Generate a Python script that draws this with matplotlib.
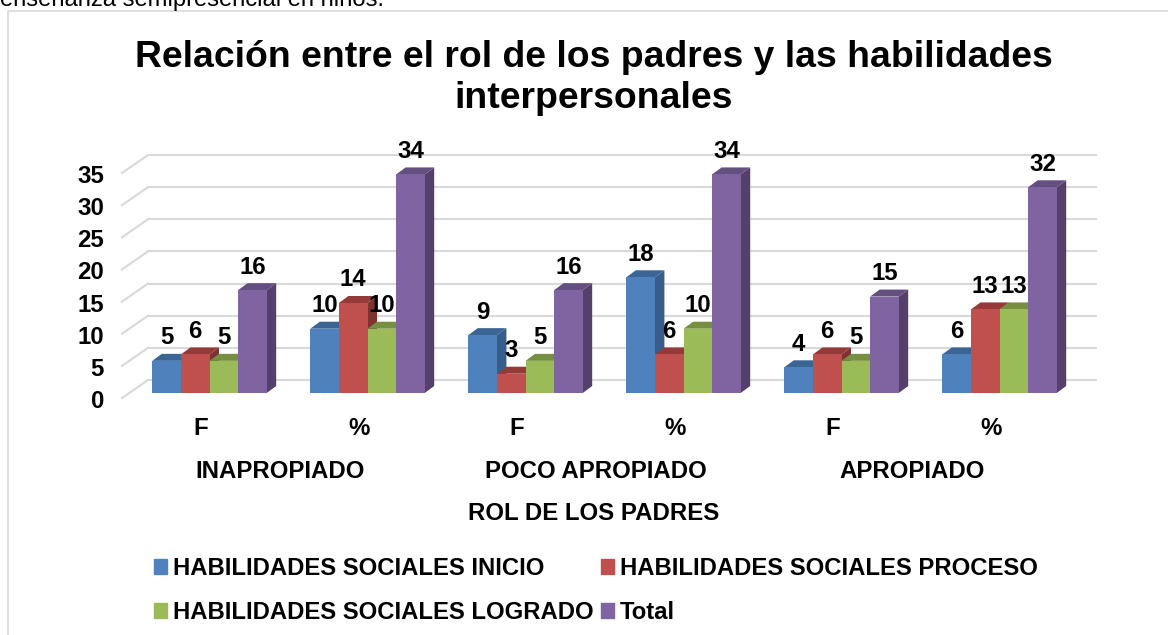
"""
Clustered bars with a faux-3D look: rol de los padres vs. habilidades sociales.
"""

import matplotlib
matplotlib.use("Agg")
import matplotlib.pyplot as plt
import numpy as np
from matplotlib.lines import Line2D
from matplotlib.patches import Patch, Polygon
from matplotlib.transforms import ScaledTranslation, blended_transform_factory

TICK_LABELS = ["F", "%", "F", "%", "F", "%"]
GROUP_LABELS = ["INAPROPIADO", "POCO APROPIADO", "APROPIADO"]
SERIES_NAMES = [
    "HABILIDADES SOCIALES INICIO",
    "HABILIDADES SOCIALES PROCESO",
    "HABILIDADES SOCIALES LOGRADO",
    "Total",
]
INICIO = [5, 10, 9, 18, 4, 6]
PROCESO = [6, 14, 3, 6, 6, 13]
LOGRADO = [5, 10, 5, 10, 5, 13]
TOTAL = [16, 34, 16, 34, 15, 32]

FRONT = ["#4F81BD", "#C0504D", "#9BBB59", "#8064A2"]
TOP = ["#3B6594", "#953A38", "#778F42", "#645080"]
SIDE = ["#385D8A", "#7F3331", "#67803A", "#54406A"]
GRID = "#D9D9D9"

W, H = 1168, 635
DPI = 100
PX_LEFT, PX_RIGHT, PX_BASE, PX_TOP = 122, 1070, 398, 173
BAR_W = 0.181
DEPTH_X = 9.5 / 158
DEPTH_Y = 7 / 6.43
# how far the back wall sits behind the front edge of the floor
WALL_X = 26 / 158
WALL_Y = 18 / 6.43
LABEL_SIZE = 17.3

plt.rcParams["font.family"] = ["Liberation Sans", "DejaVu Sans"]
plt.rcParams["font.weight"] = "bold"


def px_shift(fig, dx, dy):
    return ScaledTranslation(dx / DPI, dy / DPI, fig.dpi_scale_trans)


def draw_bar(ax, trans, x0, value, i):
    x1 = x0 + BAR_W
    top = [(x0, value), (x1, value), (x1 + DEPTH_X, value + DEPTH_Y), (x0 + DEPTH_X, value + DEPTH_Y)]
    side = [(x1, 0), (x1 + DEPTH_X, DEPTH_Y), (x1 + DEPTH_X, value + DEPTH_Y), (x1, value)]
    ax.add_patch(Polygon(side, closed=True, color=SIDE[i], lw=0, transform=trans, clip_on=False, zorder=2))
    ax.add_patch(Polygon(top, closed=True, color=TOP[i], lw=0, transform=trans, clip_on=False, zorder=2))
    ax.bar(x0, value, BAR_W, align="edge", color=FRONT[i], transform=trans, clip_on=False, zorder=2)


def main():
    fig = plt.figure(figsize=(W / DPI, H / DPI), dpi=DPI, facecolor="white")
    ax = fig.add_axes([PX_LEFT / W, 1 - PX_BASE / H, (PX_RIGHT - PX_LEFT) / W, (PX_BASE - PX_TOP) / H])
    ax.set_xlim(-0.5, 5.5)
    ax.set_ylim(0, 35)
    ax.set_autoscale_on(False)
    for s in ax.spines.values():
        s.set_visible(False)

    # chart frame and the text cut off above it
    fig.add_artist(Line2D([8 / W, 8 / W, 1], [0, 1 - 11 / H, 1 - 11 / H], color=GRID, lw=1.2))
    fig.text(0, 1 - 6 / H, "enseñanza semipresencial en niños.", fontsize=17.1, fontweight="normal",
             ha="left", va="baseline")

    # back wall and side wall gridlines
    yticks = np.arange(0, 36, 5)
    for v in yticks:
        ax.plot([-0.5 + WALL_X, 5.5 + WALL_X], [v + WALL_Y, v + WALL_Y], color=GRID, lw=1.5, clip_on=False, zorder=1)
        ax.plot([-0.5, -0.5 + WALL_X], [v, v + WALL_Y], color=GRID, lw=1.5, clip_on=False, zorder=1)

    # bars
    front = ax.transData + px_shift(fig, 8.5, 5)
    series = [INICIO, PROCESO, LOGRADO, TOTAL]
    for g in range(len(TICK_LABELS)):
        start = g - 2 * BAR_W
        for i, values in enumerate(series):
            x0 = start + i * BAR_W
            draw_bar(ax, front, x0, values[g], i)
            ax.annotate(str(values[g]), xy=(x0 + BAR_W / 2, values[g]), xycoords=front,
                        xytext=(0, 23 * 0.72), textcoords="offset points",
                        ha="center", va="center", fontsize=LABEL_SIZE, zorder=5)

    # axis labels
    ax.set_yticks(yticks)
    ax.set_xticks(range(len(TICK_LABELS)), TICK_LABELS)
    ax.tick_params(axis="y", length=0, pad=13, labelsize=LABEL_SIZE)
    ax.tick_params(axis="x", length=0, pad=13.5, labelsize=LABEL_SIZE)
    # tick numbers sit about a pixel lower than the floor line
    for label in ax.get_yticklabels():
        label.set_transform(label.get_transform() + px_shift(fig, 0, -1))

    tr = blended_transform_factory(ax.transData, fig.transFigure)
    for k, label in enumerate(GROUP_LABELS):
        ax.text(2 * k + 0.5, 1 - 472 / H, label, transform=tr, ha="center", va="center", fontsize=LABEL_SIZE)
    fig.text(594 / W, 1 - 514 / H, "ROL DE LOS PADRES", ha="center", va="center", fontsize=LABEL_SIZE)

    fig.text(594 / W, 1 - 78 / H, "Relación entre el rol de los padres y las habilidades\ninterpersonales",
             ha="center", va="center", fontsize=26.9, linespacing=1.22)

    order = [0, 2, 1, 3]
    handles = [Patch(color=FRONT[i], label=SERIES_NAMES[i]) for i in order]
    fig.legend(handles=handles, ncols=2, loc="upper left", bbox_to_anchor=(154 / W, 1 - 557 / H),
               frameon=False, fontsize=17.2, handlelength=0.55, handleheight=0.55, handletextpad=0.25,
               columnspacing=0.3, labelspacing=0.88, borderpad=0, borderaxespad=0)

    fig.savefig("out.png", dpi=DPI, facecolor="white")


if __name__ == "__main__":
    main()
